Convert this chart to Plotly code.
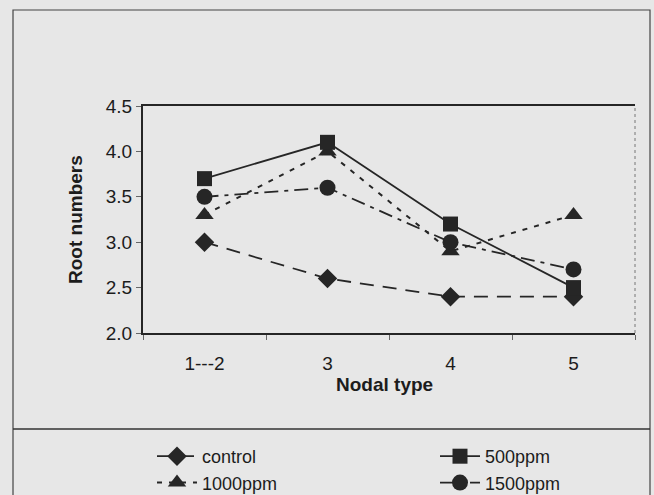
import plotly.graph_objects as go

categories = ["1---2", "3", "4", "5"]
control = [3.0, 2.6, 2.4, 2.4]
ppm500 = [3.7, 4.1, 3.2, 2.5]
ppm1000 = [3.3, 4.0, 2.9, 3.3]
ppm1500 = [3.5, 3.6, 3.0, 2.7]

INK = "#262626"
TXT = "#1c1c1c"
BG = "#e7e7e7"
FONT = "Liberation Sans, Arial, sans-serif"

W, H = 654, 495
L, R, T, B = 143, 19, 106, 162
PW, PH = W - L - R, H - T - B


def px(x):
    return (x - L) / PW


def py(y):
    return (H - B - y) / PH


fig = go.Figure()
fig.add_trace(go.Scatter(x=categories, y=control, name="control", mode="lines+markers",
                         line=dict(color=INK, width=1.8, dash="14px,9px"),
                         marker=dict(symbol="diamond", size=15, color=INK), legend="legend"))
fig.add_trace(go.Scatter(x=categories, y=ppm1000, name="1000ppm", mode="lines+markers",
                         line=dict(color=INK, width=2, dash="5px,7px"),
                         marker=dict(symbol="triangle-up", size=16, color=INK), legend="legend"))
fig.add_trace(go.Scatter(x=categories, y=ppm500, name="500ppm", mode="lines+markers",
                         line=dict(color=INK, width=1.8),
                         marker=dict(symbol="square", size=15, color=INK), legend="legend2"))
fig.add_trace(go.Scatter(x=categories, y=ppm1500, name="1500ppm", mode="lines+markers",
                         line=dict(color=INK, width=1.8, dash="14px,6px,4px,6px"),
                         marker=dict(symbol="circle", size=16, color=INK), legend="legend2"))

legend_common = dict(orientation="v", bgcolor="rgba(0,0,0,0)",
                     font=dict(family=FONT, size=18, color=TXT),
                     xref="container", yref="container", yanchor="top", xanchor="left",
                     itemwidth=40, tracegroupgap=0)

fig.update_layout(
    width=W, height=H,
    margin=dict(l=L, r=R, t=T, b=B, autoexpand=False),
    paper_bgcolor=BG, plot_bgcolor=BG,
    font=dict(family=FONT, size=16, color=TXT),
    showlegend=True,
    legend=dict(x=152 / W, y=1 - 438 / H, **legend_common),
    legend2=dict(x=435 / W, y=1 - 438 / H, **legend_common),
    xaxis=dict(type="category", range=[-0.5, 3.5], showline=True, linecolor=INK, linewidth=2,
               mirror=True, ticks="outside", tickson="boundaries", ticklen=5, tickcolor="#666",
               showgrid=False, tickfont=dict(size=19, color=TXT), tickangle=0,
               ticklabelstandoff=12),
    yaxis=dict(range=[2.0, 4.5], dtick=0.5, tickformat=".1f", showline=True, linecolor=INK,
               linewidth=2, ticks="outside", ticklen=5, tickcolor="#666", showgrid=False,
               zeroline=False, tickfont=dict(size=19, color=TXT)),
    annotations=[
        dict(text="<b>Nodal type</b>", xref="paper", yref="paper", x=px(384), y=py(384),
             showarrow=False, font=dict(size=19, color=TXT), xanchor="center", yanchor="middle"),
        dict(text="<b>Root numbers</b>", xref="paper", yref="paper", x=px(75), y=py(220),
             showarrow=False, textangle=-90, font=dict(size=19, color=TXT),
             xanchor="center", yanchor="middle"),
    ],
    shapes=[
        dict(type="line", xref="paper", yref="paper", x0=1, x1=1, y0=0, y1=1,
             line=dict(color="#777", width=1, dash="dot")),
        dict(type="rect", xref="paper", yref="paper", x0=px(13), x1=px(650),
             y0=py(505), y1=py(10), line=dict(color="#444", width=1.2)),
        dict(type="line", xref="paper", yref="paper", x0=px(13), x1=px(650),
             y0=py(429), y1=py(429), line=dict(color="#333", width=1.5)),
    ],
)

fig.write_html("out.html")
